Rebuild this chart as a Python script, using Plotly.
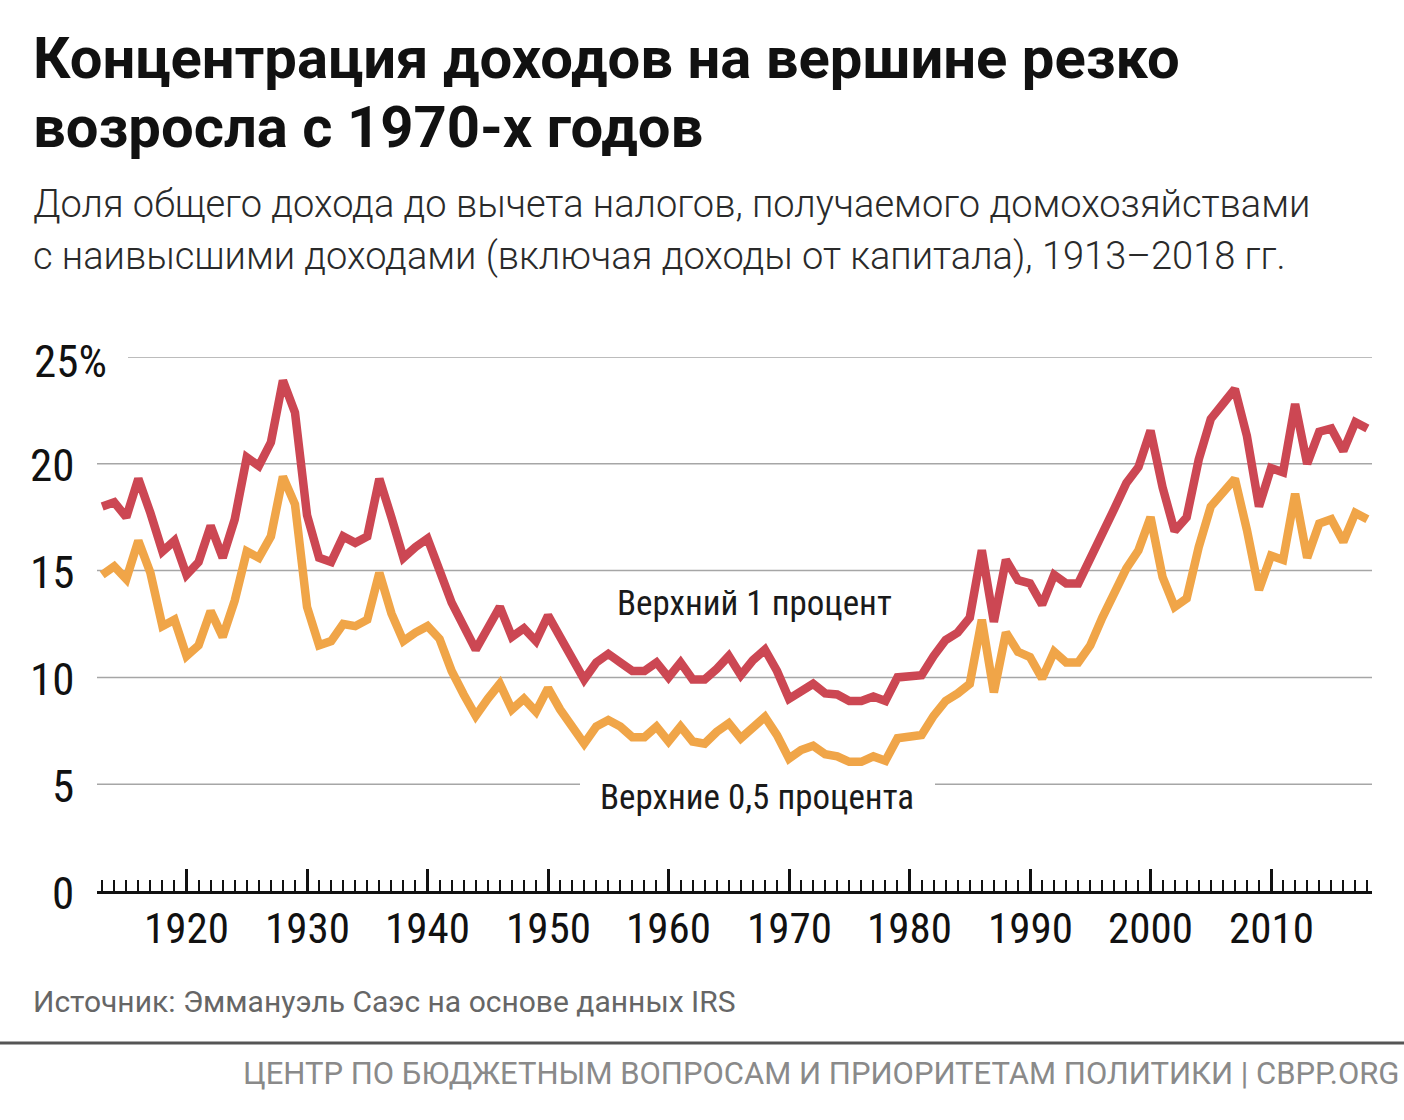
import plotly.graph_objects as go

# ---------------- data ----------------
years = list(range(1913, 2019))

top1_pct = [
    18.0, 18.2, 17.5, 19.3, 17.7, 15.9, 16.4,            # 1913-1919
    14.8, 15.4, 17.1, 15.6, 17.4, 20.3, 19.9, 21.0, 23.9, 22.4,  # 1920-1929
    17.6, 15.6, 15.4, 16.6, 16.3, 16.6, 19.3, 17.5, 15.6, 16.1,  # 1930-1939
    16.5, 15.0, 13.5, 12.4, 11.3, 12.3, 13.3, 11.9, 12.3, 11.7,  # 1940-1949
    12.9, 11.9, 10.8, 9.9, 10.7, 11.1, 10.7, 10.3, 10.3, 10.7,   # 1950-1959
    10.0, 10.7, 9.9, 9.9, 10.4, 11.0, 10.1, 10.8, 11.3, 10.3,    # 1960-1969
    9.0, 9.3, 9.7, 9.25, 9.2, 8.9, 8.9, 9.1, 8.9, 10.0,          # 1970-1979
    10.1, 10.1, 11.0, 11.75, 12.1, 12.8, 15.95, 12.6, 15.5, 14.55,  # 1980-1989
    14.4, 13.4, 14.8, 14.4, 14.4, 15.5, 16.7, 17.9, 19.1, 19.85,    # 1990-1999
    21.55, 18.9, 16.85, 17.5, 20.2, 22.1, 22.8, 23.5, 21.3, 18.0,   # 2000-2009
    19.8, 19.6, 22.8, 20.0, 21.5, 21.65, 20.6, 21.95, 21.65,        # 2010-2018
]

top05_pct = [
    14.8, 15.2, 14.6, 16.4, 14.9, 12.4, 12.7,            # 1913-1919
    11.0, 11.5, 13.1, 11.9, 13.6, 15.9, 15.6, 16.6, 19.4, 18.1,  # 1920-1929
    13.3, 11.5, 11.7, 12.5, 12.4, 12.7, 14.9, 13.0, 11.7, 12.1,  # 1930-1939
    12.4, 11.8, 10.3, 9.2, 8.2, 9.0, 9.7, 8.5, 9.0, 8.4,         # 1940-1949
    9.5, 8.5, 7.7, 6.9, 7.7, 8.0, 7.7, 7.2, 7.2, 7.7,            # 1950-1959
    7.0, 7.7, 7.0, 6.9, 7.45, 7.85, 7.15, 7.7, 8.15, 7.3,        # 1960-1969
    6.2, 6.6, 6.8, 6.4, 6.3, 6.05, 6.05, 6.3, 6.1, 7.15,         # 1970-1979
    7.2, 7.3, 8.2, 8.9, 9.25, 9.7, 12.7, 9.3, 12.1, 11.2,        # 1980-1989
    10.95, 9.95, 11.2, 10.7, 10.7, 11.5, 12.8, 14.0, 15.1, 15.95,  # 1990-1999
    17.5, 14.7, 13.3, 13.7, 16.1, 18.0, 18.6, 19.3, 16.9, 14.1,    # 2000-2009
    15.7, 15.5, 18.6, 15.6, 17.2, 17.4, 16.35, 17.7, 17.4,         # 2010-2018
]

y_ticks = [0, 5, 10, 15, 20, 25]
y_tick_labels = ["0", "5", "10", "15", "20", "25%"]
x_ticks = [1920, 1930, 1940, 1950, 1960, 1970, 1980, 1990, 2000, 2010]

title_lines = ["Концентрация доходов на вершине резко", "возросла с 1970-х годов"]
subtitle_lines = [
    "Доля общего дохода до вычета налогов, получаемого домохозяйствами",
    "с наивысшими доходами (включая доходы от капитала), 1913–2018 гг.",
]
label_top1 = "Верхний 1 процент"
label_top05 = "Верхние 0,5 процента"
source_text = "Источник: Эммануэль Саэс на основе данных IRS"
footer_text = "ЦЕНТР ПО БЮДЖЕТНЫМ ВОПРОСАМ И ПРИОРИТЕТАМ ПОЛИТИКИ | CBPP.ORG"

# ---------------- layout geometry ----------------
W, H = 1404, 1120
PL, PR, PT, PB = 97, 1372, 357, 891   # plot area in pixels


def px(x):
    return (x - PL) / (PR - PL)


def py(y):
    return (PB - y) / (PB - PT)


RED = "#cc4753"
ORANGE = "#f0a548"
NARROW = "Liberation Sans Narrow, Arial Narrow, Roboto Condensed, DejaVu Sans Condensed, sans-serif"
SANS = "Roboto, Inter, Noto Sans, sans-serif"

fig = go.Figure()
fig.add_trace(go.Scatter(x=years, y=top05_pct, mode="lines",
                         line=dict(color=ORANGE, width=8.5), hoverinfo="x+y",
                         name=label_top05))
fig.add_trace(go.Scatter(x=years, y=top1_pct, mode="lines",
                         line=dict(color=RED, width=8.5), hoverinfo="x+y",
                         name=label_top1))

shapes = []
GRID = "#a6a6a6"
for v in y_ticks[1:]:
    if v == 25:
        segs = [(128, PR)]
    elif v == 5:
        segs = [(PL, 580), (935, PR)]
    else:
        segs = [(PL, PR)]
    for a, b in segs:
        shapes.append(dict(type="line", xref="paper", yref="y",
                           x0=px(a), x1=px(b), y0=v, y1=v,
                           line=dict(color=GRID, width=1.5), layer="below"))
# footer rule
shapes.append(dict(type="line", xref="paper", yref="paper",
                   x0=px(0), x1=px(W), y0=py(1043), y1=py(1043),
                   line=dict(color="#555555", width=3)))

ann = []
# titles
for t, yc in zip(title_lines, [58, 127]):
    ann.append(dict(text=t, xref="paper", yref="paper", x=px(31), y=py(yc),
                    xanchor="left", yanchor="middle", showarrow=False,
                    font=dict(family=SANS, size=58, color="#111111", weight=700)))
for t, yc in zip(subtitle_lines, [204, 256]):
    ann.append(dict(text=t, xref="paper", yref="paper", x=px(31), y=py(yc),
                    xanchor="left", yanchor="middle", showarrow=False,
                    font=dict(family=SANS, size=38, color="#2a2a2a", weight=300)))
# y tick labels
for v, lab in zip(y_ticks, y_tick_labels):
    if lab.endswith("%"):
        ann.append(dict(text=lab, xref="paper", yref="y", x=px(32), y=v,
                        yshift=-4, xanchor="left", yanchor="middle",
                        showarrow=False,
                        font=dict(family=NARROW, size=45, color="#111111")))
    else:
        ann.append(dict(text=lab, xref="paper", yref="y", x=px(76), y=v,
                        yshift=-2, xanchor="right", yanchor="middle",
                        showarrow=False,
                        font=dict(family=NARROW, size=45, color="#111111")))
# x tick labels
for v in x_ticks:
    ann.append(dict(text=str(v), xref="x", yref="paper", x=v, y=py(928),
                    xanchor="center", yanchor="middle", showarrow=False,
                    font=dict(family=NARROW, size=43, color="#111111")))
# series labels
ann.append(dict(text=label_top1, xref="paper", yref="paper", x=px(754), y=py(603),
                xanchor="center", yanchor="middle", showarrow=False,
                font=dict(family=NARROW, size=35, color="#1a1a1a")))
ann.append(dict(text=label_top05, xref="paper", yref="paper", x=px(757), y=py(797),
                xanchor="center", yanchor="middle", showarrow=False,
                font=dict(family=NARROW, size=35, color="#1a1a1a")))
# source and footer
ann.append(dict(text=source_text, xref="paper", yref="paper", x=px(31), y=py(1001),
                xanchor="left", yanchor="middle", showarrow=False,
                font=dict(family=SANS, size=30, color="#666666")))
ann.append(dict(text=footer_text, xref="paper", yref="paper", x=px(1401), y=py(1073),
                xanchor="right", yanchor="middle", showarrow=False,
                font=dict(family=SANS, size=31, color="#8a8a8a")))

fig.update_layout(
    width=W, height=H,
    margin=dict(l=PL, r=W - PR, t=PT, b=H - PB, pad=0),
    paper_bgcolor="white", plot_bgcolor="white",
    showlegend=False,
    shapes=shapes,
    annotations=ann,
    xaxis=dict(range=[1912.57, 2018.38], tickvals=x_ticks, showticklabels=False,
               ticks="inside", ticklen=22, tickwidth=2.5, tickcolor="#111111",
               showline=True, linecolor="#111111", linewidth=3,
               showgrid=False, zeroline=False,
               minor=dict(dtick=1, tick0=1913, ticks="inside", ticklen=11,
                          tickwidth=2, tickcolor="#111111", showgrid=False)),
    yaxis=dict(range=[0, 25], showticklabels=False, showgrid=False,
               zeroline=False, showline=False, ticks=""),
)

fig.write_html("out.html")
